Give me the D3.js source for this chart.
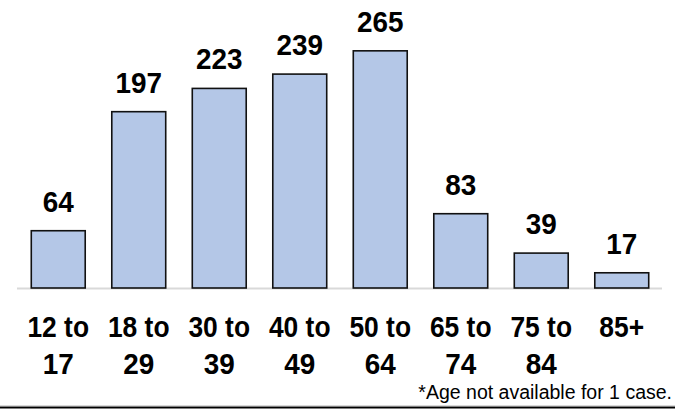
<!DOCTYPE html>
<html>
<head>
<meta charset="utf-8">
<script src="https://cdn.jsdelivr.net/npm/d3@7"></script>
<style>
  body { margin: 0; background: #fff; }
  svg { display: block; }
</style>
</head>
<body>
<script>
// age groups, two lines per label
var ageLine1 = ["12 to", "18 to", "30 to", "40 to", "50 to", "65 to", "75 to", "85+"];
var ageLine2 = ["17", "29", "39", "49", "64", "74", "84", ""];
var cases = [64, 197, 223, 239, 265, 83, 39, 17];
var footnote = "*Age not available for 1 case.";

var width = 679, height = 409;

var svg = d3.select("body")
  .append("svg")
  .attr("width", width)
  .attr("height", height);

var x = d3.scaleBand()
  .domain(ageLine1)
  .range([18, 662])
  .paddingInner(0.33)
  .paddingOuter(0.165);

var y = d3.scaleLinear()
  .domain([0, 300])
  .range([288, 19.5]);

// squeeze text a bit so it looks like the condensed font in the original
function squeeze(sel, k) {
  sel.each(function() {
    var len = this.getComputedTextLength();
    if (len > 0) {
      d3.select(this)
        .attr("textLength", len * k)
        .attr("lengthAdjust", "spacingAndGlyphs");
    }
  });
}

// baseline
svg.append("line")
  .attr("x1", 17).attr("x2", 662)
  .attr("y1", y(0) + 0.5).attr("y2", y(0) + 0.5)
  .attr("stroke", "#d9d9d9")
  .attr("stroke-width", 2);

svg.selectAll("rect.bar")
  .data(cases)
  .enter()
  .append("rect")
  .attr("class", "bar")
  .attr("x", (d, i) => x(ageLine1[i]))
  .attr("y", d => y(d))
  .attr("width", x.bandwidth())
  .attr("height", d => y(0) - y(d))
  .attr("fill", "#b4c7e7")
  .attr("stroke", "#111")
  .attr("stroke-width", 1.6);

var font = "'Liberation Sans', Arial, sans-serif";

var vals = svg.selectAll("text.val")
  .data(cases)
  .enter()
  .append("text")
  .attr("class", "val")
  .attr("x", (d, i) => x(ageLine1[i]) + x.bandwidth() / 2)
  .attr("y", d => y(d) - 19)
  .attr("text-anchor", "middle")
  .attr("font-family", font)
  .attr("font-weight", "bold")
  .attr("font-size", 30)
  .text(d => d);
squeeze(vals, 0.93);

var cat = svg.selectAll("text.cat")
  .data(ageLine1)
  .enter()
  .append("text")
  .attr("class", "cat")
  .attr("x", d => x(d) + x.bandwidth() / 2)
  .attr("y", 337)
  .attr("text-anchor", "middle")
  .attr("font-family", font)
  .attr("font-weight", "bold")
  .attr("font-size", 30);

var t1 = cat.append("tspan")
  .attr("x", d => x(d) + x.bandwidth() / 2)
  .text(d => d);

var t2 = cat.append("tspan")
  .attr("x", d => x(d) + x.bandwidth() / 2)
  .attr("dy", 37)
  .text((d, i) => ageLine2[i]);

squeeze(t1, 0.88);
squeeze(t2, 0.93);

svg.append("text")
  .attr("x", 672)
  .attr("y", 399)
  .attr("text-anchor", "end")
  .attr("font-family", font)
  .attr("font-size", 19.5)
  .text(footnote);

// bottom rule
svg.append("line")
  .attr("x1", 0).attr("x2", 675)
  .attr("y1", 405.5).attr("y2", 405.5)
  .attr("stroke", "#d9d9d9")
  .attr("stroke-width", 1);

svg.append("line")
  .attr("x1", 0).attr("x2", 675)
  .attr("y1", 407.5).attr("y2", 407.5)
  .attr("stroke", "#000")
  .attr("stroke-width", 2);
</script>
</body>
</html>
